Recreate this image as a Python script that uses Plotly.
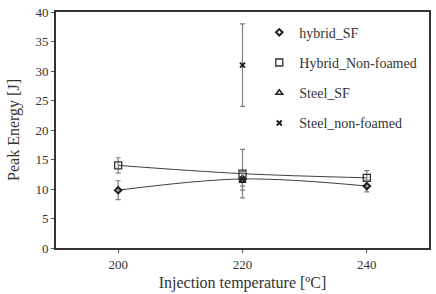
import plotly.graph_objects as go

temps = [200, 220, 240]
hybrid_sf = [9.8, 11.7, 10.5]
hybrid_sf_err = [1.6, 1.2, 1.0]
hybrid_nf = [14.0, 12.6, 11.9]
hybrid_nf_err = [1.3, 4.1, 1.2]
steel_sf_x = [220]
steel_sf = [11.4]
steel_sf_err = [1.6]
steel_nf_x = [220]
steel_nf = [31.0]
steel_nf_err = [7.0]
y_ticks = [0, 5, 10, 15, 20, 25, 30, 35, 40]
x_ticks = [200, 220, 240]

font = "Liberation Serif"
err_style = dict(type="data", color="#808080", thickness=1.2, width=2.5)
fig = go.Figure()

fig.add_trace(go.Scatter(x=temps, y=hybrid_sf, mode="lines", line=dict(color="#404040", width=1, shape="spline"), showlegend=False, hoverinfo="skip"))
fig.add_trace(go.Scatter(x=temps, y=hybrid_nf, mode="lines", line=dict(color="#404040", width=1, shape="spline"), showlegend=False, hoverinfo="skip"))

fig.add_trace(go.Scatter(x=temps, y=hybrid_nf, mode="markers", name="Hybrid_Non-foamed", legendrank=2,
                         error_y=dict(array=hybrid_nf_err, **err_style),
                         marker=dict(symbol="square-open", size=7, color="#303030", line=dict(width=1.3))))
fig.add_trace(go.Scatter(x=temps, y=hybrid_sf, mode="markers", name="hybrid_SF", legendrank=1,
                         error_y=dict(array=hybrid_sf_err, **err_style),
                         marker=dict(symbol="diamond-open", size=5, color="#202020", line=dict(width=2))))
fig.add_trace(go.Scatter(x=steel_sf_x, y=steel_sf, mode="markers", name="Steel_SF", legendrank=3,
                         error_y=dict(array=steel_sf_err, **err_style),
                         marker=dict(symbol="triangle-up-open", size=6, color="#202020", line=dict(width=1.5))))
fig.add_trace(go.Scatter(x=steel_nf_x, y=steel_nf, mode="markers", name="Steel_non-foamed", legendrank=4,
                         error_y=dict(array=steel_nf_err, **err_style),
                         marker=dict(symbol="x-thin-open", size=5, color="#202020", line=dict(width=2))))

fig.update_layout(
    width=436, height=294,
    margin=dict(l=56, r=5, t=8, b=46),
    paper_bgcolor="white", plot_bgcolor="white",
    font=dict(family=font, size=13, color="#333333"),
    legend=dict(x=0.545, y=0.98, xanchor="left", yanchor="top", bgcolor="rgba(0,0,0,0)",
                font=dict(family=font, size=14, color="#333333"),
                tracegroupgap=9, traceorder="grouped", itemwidth=30),
    xaxis=dict(range=[190, 250], tickvals=x_ticks, ticks="outside", ticklen=3, tickcolor="#555",
               showline=True, linecolor="#333", linewidth=2, mirror=True, showgrid=False, zeroline=False,
               title=dict(text="Injection temperature [ºC]", font=dict(size=16), standoff=6),
               tickfont=dict(size=13)),
    yaxis=dict(range=[0, 40], tickvals=y_ticks, ticks="outside", ticklen=3, tickcolor="#555",
               showline=True, linecolor="#333", linewidth=2, mirror=True, showgrid=False, zeroline=False,
               title=dict(text="Peak Energy [J]", font=dict(size=16), standoff=12),
               tickfont=dict(size=13)),
)
for i, tr in enumerate(fig.data):
    tr.legendgroup = f"g{i}"

fig.write_html("out.html")
